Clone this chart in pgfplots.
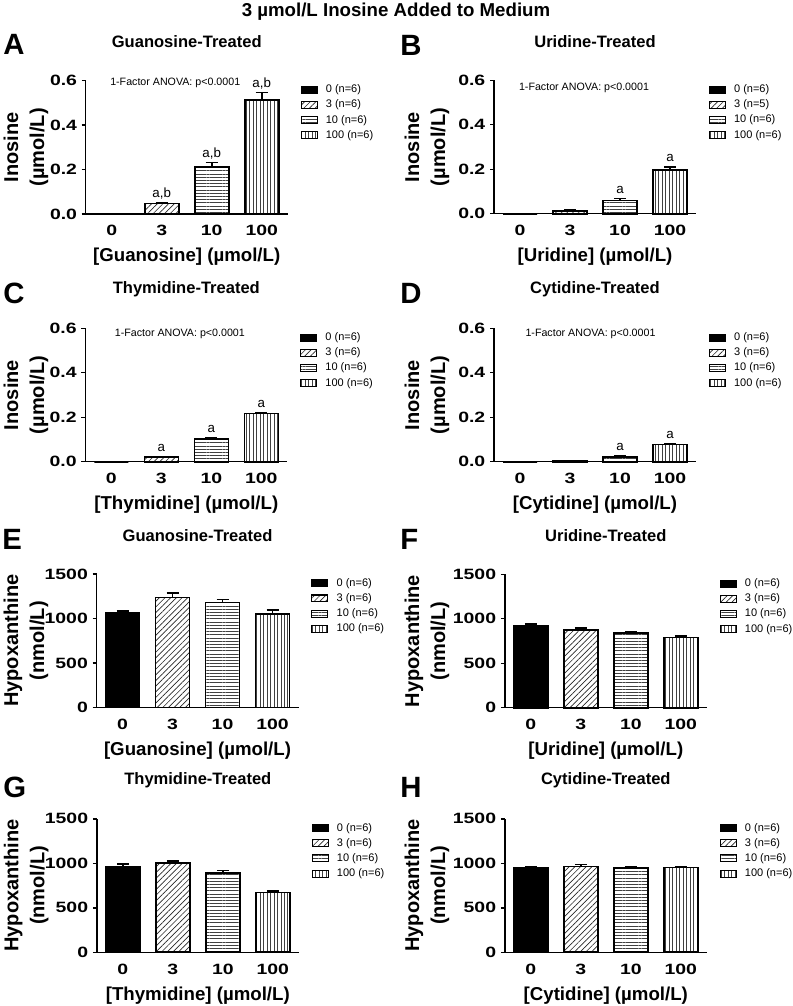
\documentclass[border=0pt]{standalone}
\usepackage{pgfplots}
\pgfplotsset{compat=1.18}
\usepackage{fontspec}
\setmainfont{Liberation Sans}
\newfontfamily\tickfont[FakeStretch=1.3]{Liberation Sans}
\usetikzlibrary{patterns.meta}

\pgfplotsset{
  panel/.style={
    scale only axis, width=151.5pt, height=100.1pt,
    anchor=south west,
    xmin=-0.52, xmax=3.52, ymin=0,
    axis x line*=bottom, axis y line*=left,
    axis line style={line width=1.1pt},
    xtick={0,1,2,3}, xticklabels={0,3,10,100},
    x tick style={draw=none},
    y tick style={line width=1.1pt, black},
    tick align=outside, major tick length=3pt,
    ticklabel style={font=\tickfont\bfseries\fontsize{11.2}{13}\selectfont},
    /pgf/number format/assume math mode=true,
    xticklabel style={yshift=-2pt},
    title style={font=\bfseries\fontsize{12.4}{14}\selectfont, at={(axis description cs:0.5,1)}, anchor=center, yshift=23pt},
    xlabel style={font=\bfseries\fontsize{14}{16}\selectfont, at={(axis description cs:0.5,0)}, anchor=center, yshift=-32.25pt},
    ylabel style={font=\bfseries\fontsize{15}{19.5}\selectfont, align=center, anchor=center},
    legend style={at={(axis description cs:1.062,0.982)}, anchor=north west, draw=none, fill=none, inner sep=0pt, row sep=1.5pt, font=\fontsize{8.25}{10}\selectfont, nodes={inner sep=1.2pt},
      /tikz/every odd column/.append style={column sep=5pt}},
    legend cell align=left,
    legend image code/.code={\draw[#1, line width=0.8pt] (0pt,-2.6pt) rectangle (12pt,2.6pt);},
    clip=false,
  },
  inosine/.style={panel, ymax=0.6, ytick={0,0.2,0.4,0.6},
    yticklabel style={/pgf/number format/.cd, fixed, fixed zerofill, precision=1},
    ylabel={Inosine\\(µmol/L)}},
  hypox/.style={panel, ymax=1500, ytick={0,500,1000,1500},
    yticklabel style={/pgf/number format/.cd, 1000 sep={}},
    ylabel={Hypoxanthine\\(nmol/L)}},
  barbase/.style={ybar, bar width=25.5pt, bar shift=0pt, draw=black, line width=1.2pt,
    error bars/y dir=plus, error bars/y explicit,
    error bars/error bar style={line width=1.2pt, black},
    error bars/error mark options={rotate=90, mark size=4.5pt, line width=1.2pt, black}},
  b0/.style={barbase, fill=black},
  b3/.style={barbase, pattern={Lines[angle=45, distance=3pt, line width=0.5pt]}, pattern color=black!85},
  b10/.style={barbase, pattern={Lines[angle=0, distance=2.4pt, line width=0.45pt]}, pattern color=black!75},
  b100/.style={barbase, pattern={Lines[angle=90, distance=2.6pt, line width=0.45pt]}, pattern color=black!75},
}
\newcommand{\anova}{\fontsize{8}{10}\selectfont 1-Factor ANOVA: p<0.0001}
\tikzset{sig/.style={font=\fontsize{10}{12}\selectfont, anchor=base, yshift=3.8pt, inner sep=0pt}}

\begin{document}
\begin{tikzpicture}
\path[use as bounding box] (0pt,0pt) rectangle (594pt,-754.5pt);

\node[font=\bfseries\fontsize{14}{16}\selectfont] at (297pt,-9pt) {3 µmol/L Inosine Added to Medium};
\begin{scope}[every node/.style={font=\bfseries\fontsize{22}{24}\selectfont, anchor=west, inner sep=0pt}]
\node at (2.25pt,-33pt) {A};
\node at (300pt,-33.75pt) {B};
\node at (2.25pt,-219.75pt) {C};
\node at (300pt,-219.75pt) {D};
\node at (1.5pt,-404.25pt) {E};
\node at (300pt,-404.25pt) {F};
\node at (2.25pt,-590.6pt) {G};
\node at (300pt,-590.6pt) {H};
\end{scope}

% A
\begin{axis}[inosine, at={(64.3pt,-160.5pt)}, title={Guanosine-Treated}, xlabel={[Guanosine] (µmol/L)},
  ylabel style={at={(axis description cs:-0.296,0.5)}}]
\addplot[b0] coordinates {(0,0) +- (0,0)};
\addplot[b3] coordinates {(1,0.048) +- (0,0.004)};
\addplot[b10] coordinates {(2,0.210) +- (0,0.021)};
\addplot[b100] coordinates {(3,0.512) +- (0,0.034)};
\legend{0 (n=6),3 (n=6),10 (n=6),100 (n=6)}
\node at (axis cs:1.27,0.59) {\anova};
\node[sig] at (axis cs:1,0.052) {a,b};
\node[sig] at (axis cs:2,0.231) {a,b};
\node[sig] at (axis cs:3,0.546) {a,b};
\end{axis}

% B
\begin{axis}[inosine, at={(370.5pt,-160.3pt)}, title={Uridine-Treated}, xlabel={[Uridine] (µmol/L)},
  ylabel style={at={(axis description cs:-0.332,0.5)}}]
\addplot[b0] coordinates {(0,0) +- (0,0)};
\addplot[b3] coordinates {(1,0.013) +- (0,0.005)};
\addplot[b10] coordinates {(2,0.060) +- (0,0.008)};
\addplot[b100] coordinates {(3,0.197) +- (0,0.014)};
\legend{0 (n=6),3 (n=5),10 (n=6),100 (n=6)}
\node at (axis cs:1.28,0.566) {\anova};
\node[sig] at (axis cs:2,0.068) {a};
\node[sig] at (axis cs:3,0.211) {a};
\end{axis}

% C
\begin{axis}[inosine, at={(64pt,-346.3pt)}, title={Thymidine-Treated}, xlabel={[Thymidine] (µmol/L)},
  ylabel style={at={(axis description cs:-0.294,0.5)}}]
\addplot[b0] coordinates {(0,0) +- (0,0)};
\addplot[b3] coordinates {(1,0.021) +- (0,0.003)};
\addplot[b10] coordinates {(2,0.102) +- (0,0.007)};
\addplot[b100] coordinates {(3,0.216) +- (0,0.006)};
\legend{0 (n=6),3 (n=6),10 (n=6),100 (n=6)}
\node at (axis cs:1.37,0.574) {\anova};
\node[sig] at (axis cs:1,0.024) {a};
\node[sig] at (axis cs:2,0.109) {a};
\node[sig] at (axis cs:3,0.222) {a};
\end{axis}

% D
\begin{axis}[inosine, at={(370.5pt,-346.3pt)}, title={Cytidine-Treated}, xlabel={[Cytidine] (µmol/L)},
  ylabel style={at={(axis description cs:-0.332,0.5)}}]
\addplot[b0] coordinates {(0,0) +- (0,0)};
\addplot[b3] coordinates {(1,0.003) +- (0,0.001)};
\addplot[b10] coordinates {(2,0.022) +- (0,0.004)};
\addplot[b100] coordinates {(3,0.077) +- (0,0.005)};
\legend{0 (n=6),3 (n=6),10 (n=6),100 (n=6)}
\node at (axis cs:1.41,0.574) {\anova};
\node[sig] at (axis cs:2,0.026) {a};
\node[sig] at (axis cs:3,0.082) {a};
\end{axis}

% E
\begin{axis}[hypox, at={(72.4pt,-530.6pt)}, title={Guanosine-Treated}, xlabel={[Guanosine] (µmol/L)},
  ylabel style={at={(axis description cs:-0.349,0.5)}}]
\addplot[b0] coordinates {(0,1069) +- (0,12)};
\addplot[b3] coordinates {(1,1238) +- (0,50)};
\addplot[b10] coordinates {(2,1181) +- (0,33)};
\addplot[b100] coordinates {(3,1050) +- (0,45)};
\legend{0 (n=6),3 (n=6),10 (n=6),100 (n=6)}
\end{axis}

% F
\begin{axis}[hypox, at={(378.6pt,-530.8pt)}, title={Uridine-Treated}, xlabel={[Uridine] (µmol/L)},
  ylabel style={at={(axis description cs:-0.385,0.5)}}]
\addplot[b0] coordinates {(0,923) +- (0,20)};
\addplot[b3] coordinates {(1,875) +- (0,20)};
\addplot[b10] coordinates {(2,838) +- (0,15)};
\addplot[b100] coordinates {(3,789) +- (0,18)};
\legend{0 (n=6),3 (n=6),10 (n=6),100 (n=6)}
\end{axis}

% G
\begin{axis}[hypox, at={(72.6pt,-714.2pt)}, title={Thymidine-Treated}, xlabel={[Thymidine] (µmol/L)},
  ylabel style={at={(axis description cs:-0.35,0.5)}}]
\addplot[b0] coordinates {(0,959) +- (0,30)};
\addplot[b3] coordinates {(1,1004) +- (0,25)};
\addplot[b10] coordinates {(2,892) +- (0,25)};
\addplot[b100] coordinates {(3,672) +- (0,20)};
\legend{0 (n=6),3 (n=6),10 (n=6),100 (n=6)}
\end{axis}

% H
\begin{axis}[hypox, at={(378.6pt,-714.2pt)}, title={Cytidine-Treated}, xlabel={[Cytidine] (µmol/L)},
  ylabel style={at={(axis description cs:-0.385,0.5)}}]
\addplot[b0] coordinates {(0,944) +- (0,12)};
\addplot[b3] coordinates {(1,966) +- (0,20)};
\addplot[b10] coordinates {(2,944) +- (0,12)};
\addplot[b100] coordinates {(3,951) +- (0,15)};
\legend{0 (n=6),3 (n=6),10 (n=6),100 (n=6)}
\end{axis}
\end{tikzpicture}
\end{document}
